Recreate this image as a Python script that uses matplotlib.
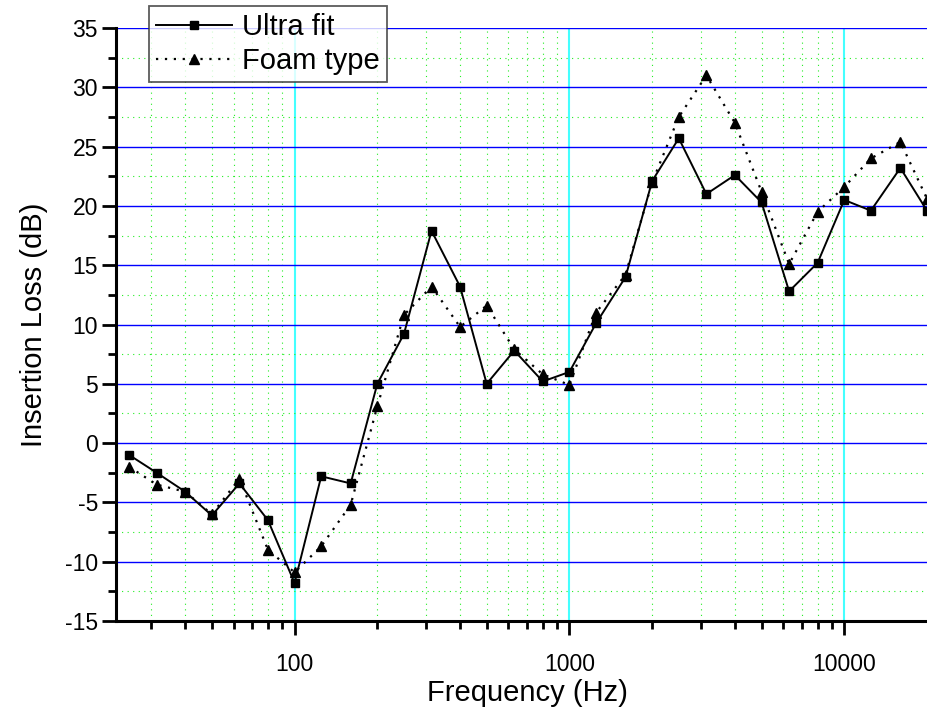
import matplotlib
matplotlib.use("Agg")
import matplotlib.pyplot as plt
from matplotlib.ticker import FixedLocator, NullFormatter, MultipleLocator, FuncFormatter

plt.rcParams['font.family'] = ['Liberation Sans', 'DejaVu Sans']
plt.rcParams['axes.unicode_minus'] = False

freq = [25, 31.5, 40, 50, 63, 80, 100, 125, 160, 200, 250, 315, 400, 500, 630,
        800, 1000, 1250, 1600, 2000, 2500, 3150, 4000, 5000, 6300, 8000, 10000,
        12500, 16000, 20000]
ultra_fit = [-1.0, -2.5, -4.1, -6.1, -3.4, -6.5, -11.8, -2.8, -3.4, 5.0, 9.2, 17.9,
             13.2, 5.0, 7.8, 5.2, 6.0, 10.1, 14.0, 22.1, 25.7, 21.0, 22.6, 20.3,
             12.8, 15.2, 20.5, 19.6, 23.2, 19.6]
foam_type = [-2.0, -3.5, -4.1, -6.0, -3.0, -9.0, -10.9, -8.7, -5.2, 3.1, 10.8, 13.2,
             9.8, 11.6, 7.9, 5.8, 4.9, 11.0, 14.2, 22.0, 27.5, 31.0, 27.0, 21.2,
             15.1, 19.5, 21.6, 24.0, 25.4, 20.6]
series_names = ["Ultra fit", "Foam type"]
xticks_major = [100, 1000, 10000]
xtick_labels = ["100", "1000", "10000"]

W, H = 927, 708
fig = plt.figure(figsize=(W / 100, H / 100), dpi=100)
ax = fig.add_axes([116 / W, 87 / H, 811 / W, 593 / H])

ax.set_xscale('log')
ax.set_xlim(22.4, 20000)
ax.set_ylim(-15, 35)

minor_x = [m * 10 ** e for e in (1, 2, 3) for m in range(2, 10) if 22.4 < m * 10 ** e < 20000]
ax.xaxis.set_major_locator(FixedLocator(xticks_major))
ax.xaxis.set_minor_locator(FixedLocator(minor_x))
ax.xaxis.set_major_formatter(FuncFormatter(lambda v, p: xtick_labels[xticks_major.index(v)] if v in xticks_major else ""))
ax.xaxis.set_minor_formatter(NullFormatter())
ax.yaxis.set_major_locator(MultipleLocator(5))
ax.yaxis.set_minor_locator(MultipleLocator(2.5))

ax.grid(True, which='minor', axis='both', color='#22ee22', linestyle=(0, (1, 4)), linewidth=0.8)
ax.grid(True, which='major', axis='y', color='#0000ff', linestyle='-', linewidth=1.0)
ax.grid(True, which='major', axis='x', color='#44ffff', linestyle='-', linewidth=1.5)
ax.set_axisbelow(True)

l1, = ax.plot(freq, ultra_fit, color='black', linestyle='-', linewidth=1.4,
              marker='s', markersize=6, label=series_names[0], clip_on=True)
l2, = ax.plot(freq, foam_type, color='black', linestyle=(0, (1, 3)), linewidth=1.6,
              marker='^', markersize=7.5, label=series_names[1], clip_on=True)

for s in ('top', 'right'):
    ax.spines[s].set_visible(False)
for s in ('left', 'bottom'):
    ax.spines[s].set_linewidth(2.2)

ax.tick_params(which='major', direction='out', length=10, width=2, labelsize=16.5)
ax.tick_params(axis='x', which='major', pad=13)
ax.tick_params(axis='y', which='major', pad=3)
ax.tick_params(which='minor', direction='out', length=5.5, width=2)

ax.set_xlabel("Frequency (Hz)", fontsize=21)
ax.xaxis.set_label_coords(0.507, -0.097)
ax.set_ylabel("Insertion Loss (dB)", fontsize=21, labelpad=12)

leg = fig.legend(handles=[l1, l2], loc='upper left', bbox_to_anchor=(149 / W, 1 - 6 / H),
                 fontsize=21, frameon=True, fancybox=False, borderaxespad=0,
                 handlelength=2.6, handletextpad=0.35, borderpad=0.25, labelspacing=0.2,
                 markerscale=1.0)
leg.get_frame().set_edgecolor('#333333')
leg.get_frame().set_linewidth(1.3)

fig.savefig("out.png", dpi=100)
